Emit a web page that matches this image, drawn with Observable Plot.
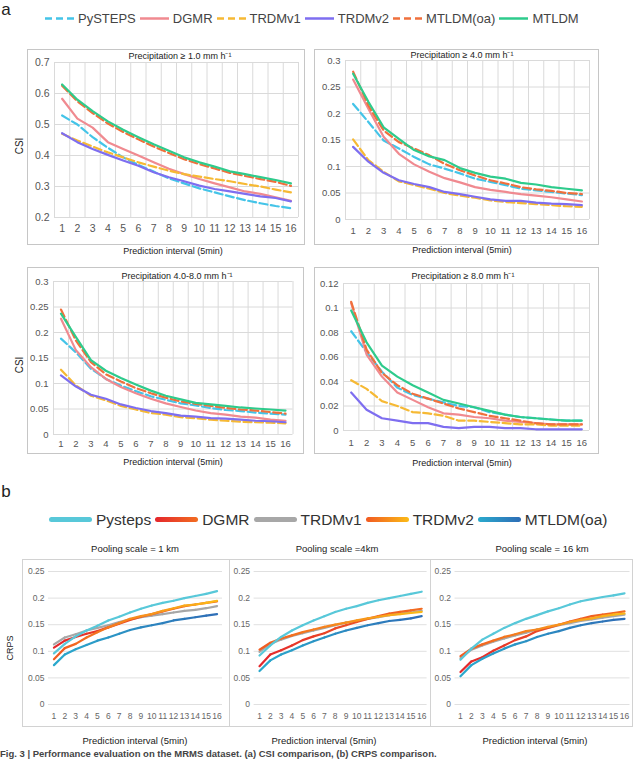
<!DOCTYPE html>
<html><head><meta charset="utf-8">
<script src="https://cdn.jsdelivr.net/npm/d3@7"></script>
<script src="https://cdn.jsdelivr.net/npm/@observablehq/plot@0.6"></script>
<style>
body{margin:0;background:#fff;}
#root{position:relative;width:640px;height:760px;overflow:hidden;background:#fff;font-family:"Liberation Sans",Arial,Helvetica,sans-serif;color:#222;}
.c{position:absolute;transform:translate(-50%,-50%);white-space:nowrap;line-height:1.15;}
.box{position:absolute;border:1px solid #c9c9c9;box-sizing:border-box;}
.leg{position:absolute;display:flex;align-items:center;transform:translateY(-50%);white-space:nowrap;line-height:1.15;}
.plot{position:absolute;}
</style></head><body><div id="root"></div>
<script>
// ---------- data ----------
const intervals = [1,2,3,4,5,6,7,8,9,10,11,12,13,14,15,16];

const csiModels = ["PySTEPS","DGMR","TRDMv1","TRDMv2","MTLDM(oa)","MTLDM"];
const csiColors = ["#44c4e8","#f08a90","#f6b934","#7e6ef0","#f0703c","#2ecb8c"];
const csiDashed = [true,false,true,false,true,false];

// Precipitation >= 1.0 mm/h
const ge1_pysteps = [0.529,0.500,0.459,0.425,0.394,0.370,0.348,0.326,0.310,0.294,0.281,0.268,0.256,0.246,0.237,0.230];
const ge1_dgmr    = [0.583,0.519,0.490,0.443,0.421,0.400,0.378,0.357,0.340,0.324,0.310,0.297,0.284,0.276,0.265,0.254];
const ge1_trdmv1  = [0.470,0.448,0.429,0.410,0.394,0.378,0.364,0.351,0.340,0.332,0.324,0.317,0.308,0.300,0.290,0.281];
const ge1_trdmv2  = [0.472,0.443,0.421,0.402,0.384,0.367,0.346,0.330,0.317,0.303,0.292,0.284,0.276,0.268,0.263,0.252];
const ge1_mtldmoa = [0.625,0.575,0.537,0.503,0.476,0.452,0.429,0.408,0.388,0.372,0.358,0.344,0.334,0.324,0.315,0.302];
const ge1_mtldm   = [0.629,0.580,0.543,0.510,0.483,0.459,0.436,0.415,0.394,0.378,0.364,0.349,0.340,0.330,0.321,0.310];

// Precipitation >= 4.0 mm/h
const ge4_pysteps = [0.218,0.184,0.149,0.134,0.118,0.104,0.096,0.087,0.077,0.071,0.065,0.058,0.055,0.052,0.049,0.046];
const ge4_dgmr    = [0.264,0.209,0.156,0.124,0.104,0.090,0.078,0.070,0.061,0.056,0.052,0.048,0.045,0.042,0.038,0.034];
const ge4_trdmv1  = [0.151,0.112,0.090,0.072,0.065,0.058,0.050,0.045,0.041,0.036,0.033,0.031,0.029,0.027,0.025,0.024];
const ge4_trdmv2  = [0.137,0.109,0.088,0.074,0.067,0.061,0.052,0.048,0.043,0.038,0.035,0.035,0.032,0.030,0.029,0.027];
const ge4_mtldmoa = [0.279,0.215,0.168,0.146,0.134,0.121,0.105,0.093,0.083,0.074,0.068,0.061,0.057,0.054,0.050,0.048];
const ge4_mtldm   = [0.275,0.222,0.174,0.152,0.131,0.119,0.112,0.097,0.088,0.081,0.077,0.069,0.066,0.061,0.058,0.055];

// Precipitation 4.0-8.0 mm/h
const r48_pysteps = [0.188,0.161,0.129,0.109,0.096,0.085,0.075,0.068,0.061,0.057,0.052,0.048,0.046,0.043,0.041,0.039];
const r48_dgmr    = [0.227,0.165,0.132,0.109,0.093,0.081,0.070,0.061,0.054,0.047,0.042,0.039,0.035,0.033,0.029,0.027];
const r48_trdmv1  = [0.127,0.096,0.076,0.067,0.056,0.049,0.042,0.039,0.034,0.032,0.029,0.027,0.025,0.024,0.023,0.022];
const r48_trdmv2  = [0.116,0.094,0.078,0.070,0.059,0.052,0.046,0.042,0.037,0.035,0.032,0.031,0.029,0.027,0.026,0.024];
const r48_mtldmoa = [0.245,0.184,0.142,0.118,0.104,0.091,0.081,0.072,0.065,0.060,0.056,0.052,0.049,0.047,0.044,0.041];
const r48_mtldm   = [0.237,0.191,0.146,0.125,0.111,0.098,0.086,0.076,0.069,0.062,0.059,0.056,0.053,0.051,0.049,0.047];

// Precipitation >= 8.0 mm/h
const ge8_pysteps = [0.081,0.064,0.048,0.035,0.029,0.026,0.023,0.020,0.019,0.015,0.013,0.011,0.010,0.009,0.008,0.008];
const ge8_dgmr    = [0.104,0.062,0.044,0.031,0.025,0.019,0.014,0.013,0.011,0.010,0.008,0.007,0.006,0.005,0.005,0.005];
const ge8_trdmv1  = [0.041,0.034,0.024,0.020,0.015,0.014,0.012,0.008,0.008,0.007,0.006,0.005,0.005,0.004,0.004,0.004];
const ge8_trdmv2  = [0.031,0.017,0.010,0.008,0.006,0.006,0.003,0.002,0.003,0.003,0.002,0.002,0.001,0.001,0.001,0.001];
const ge8_mtldmoa = [0.105,0.066,0.047,0.037,0.030,0.026,0.022,0.018,0.015,0.012,0.010,0.008,0.006,0.005,0.005,0.005];
const ge8_mtldm   = [0.098,0.072,0.053,0.044,0.037,0.031,0.025,0.022,0.019,0.016,0.013,0.011,0.010,0.009,0.008,0.008];

const csiTitles = ["Precipitation ≥ 1.0 mm h⁻¹","Precipitation ≥ 4.0 mm h⁻¹","Precipitation 4.0-8.0 mm h⁻¹","Precipitation ≥ 8.0 mm h⁻¹"];
const ticks_ge1 = [0.2,0.3,0.4,0.5,0.6,0.7];
const ticks_ge4 = [0,0.05,0.1,0.15,0.2,0.25,0.3];
const ticks_r48 = [0,0.05,0.1,0.15,0.2,0.25,0.3];
const ticks_ge8 = [0,0.02,0.04,0.06,0.08,0.1,0.12];

// CRPS
const crpsModels = ["Pysteps","DGMR","TRDMv1","TRDMv2","MTLDM(oa)"];
const crpsColorStart = ["#58c8d9","#e4262c","#a7a7a7","#f15a22","#2aaacd"];
const crpsColorEnd   = ["#58c8d9","#f26d21","#a7a7a7","#fbbb17","#2e6db6"];
const crpsTitles = ["Pooling scale = 1 km","Pooling scale =4km","Pooling scale = 16 km"];
const crpsTicks = [0,0.05,0.1,0.15,0.2,0.25];

const p1_pysteps = [0.096,0.114,0.128,0.139,0.148,0.158,0.165,0.173,0.180,0.186,0.191,0.195,0.200,0.204,0.208,0.213];
const p1_dgmr    = [0.107,0.120,0.127,0.133,0.138,0.145,0.152,0.159,0.165,0.170,0.175,0.180,0.185,0.188,0.191,0.194];
const p1_trdmv1  = [0.113,0.126,0.132,0.139,0.144,0.149,0.155,0.160,0.164,0.167,0.170,0.173,0.176,0.178,0.181,0.185];
const p1_trdmv2  = [0.085,0.106,0.114,0.126,0.136,0.145,0.153,0.161,0.166,0.170,0.176,0.181,0.186,0.188,0.191,0.195];
const p1_mtldmoa = [0.074,0.094,0.104,0.112,0.120,0.126,0.133,0.140,0.145,0.149,0.153,0.158,0.161,0.164,0.167,0.170];

const p4_pysteps = [0.092,0.111,0.127,0.139,0.149,0.158,0.166,0.174,0.180,0.185,0.191,0.196,0.200,0.204,0.208,0.212];
const p4_dgmr    = [0.072,0.094,0.102,0.111,0.121,0.128,0.134,0.143,0.149,0.155,0.161,0.166,0.171,0.174,0.177,0.180];
const p4_trdmv1  = [0.099,0.114,0.122,0.129,0.134,0.139,0.144,0.149,0.154,0.157,0.161,0.164,0.168,0.171,0.173,0.176];
const p4_trdmv2  = [0.103,0.116,0.124,0.130,0.136,0.141,0.146,0.150,0.154,0.158,0.162,0.165,0.168,0.170,0.172,0.174];
const p4_mtldmoa = [0.063,0.083,0.094,0.102,0.111,0.119,0.126,0.133,0.139,0.144,0.149,0.153,0.157,0.159,0.162,0.166];

const p16_pysteps = [0.084,0.105,0.122,0.133,0.144,0.153,0.161,0.168,0.175,0.181,0.188,0.194,0.198,0.202,0.205,0.209];
const p16_dgmr    = [0.061,0.081,0.089,0.101,0.111,0.121,0.128,0.138,0.144,0.150,0.156,0.161,0.166,0.169,0.172,0.175];
const p16_trdmv1  = [0.087,0.103,0.111,0.118,0.124,0.130,0.135,0.141,0.144,0.149,0.153,0.157,0.160,0.163,0.166,0.169];
const p16_trdmv2  = [0.091,0.105,0.113,0.120,0.127,0.132,0.138,0.141,0.146,0.150,0.155,0.159,0.162,0.166,0.169,0.171];
const p16_mtldmoa = [0.053,0.074,0.086,0.096,0.105,0.113,0.119,0.127,0.133,0.138,0.144,0.149,0.153,0.156,0.159,0.161];

// ---------- layout ----------
const root = document.getElementById("root");
const FONT = '"Liberation Sans", Arial, Helvetica, sans-serif';
const fmt = d => String(+d.toFixed(3));
const xGrid = [0.5].concat(intervals.map(d => d + 0.5));

function text(t, x, y, size, opts = {}) {
  const el = document.createElement("div");
  el.className = "c";
  el.textContent = t;
  el.style.left = x + "px"; el.style.top = y + "px";
  el.style.fontSize = size + "px";
  el.style.color = opts.color || "#222";
  if (opts.weight) el.style.fontWeight = opts.weight;
  if (opts.rotate) el.style.transform = "translate(-50%,-50%) rotate(-90deg)";
  root.appendChild(el);
  return el;
}
function box(l, t, r, b, color) {
  const el = document.createElement("div");
  el.className = "box";
  el.style.left = l + "px"; el.style.top = t + "px";
  el.style.width = (r - l) + "px"; el.style.height = (b - t) + "px";
  if (color) el.style.borderColor = color;
  root.appendChild(el);
}
function place(svg, l, t) {
  svg.classList.add("plot");
  svg.style.left = l + "px"; svg.style.top = t + "px";
  root.appendChild(svg);
}

// ---------- panel a ----------
text("a", 6, 10, 17, {color: "#222"});
{
  const leg = document.createElement("div");
  leg.className = "leg";
  leg.style.left = "45px"; leg.style.top = "19px";
  leg.style.fontSize = "13px"; leg.style.color = "#444";
  leg.innerHTML = csiModels.map((m, i) =>
    `<svg width="29" height="6" style="margin-right:4px"><line x1="0" y1="3" x2="29" y2="3" stroke="${csiColors[i]}" stroke-width="2.6" ${csiDashed[i] ? 'stroke-dasharray="7,4"' : ""}/></svg><span style="margin-right:4px">${m}</span>`
  ).join("");
  root.appendChild(leg);
}

const csiPanels = [
  {series:[ge1_pysteps,ge1_dgmr,ge1_trdmv1,ge1_trdmv2,ge1_mtldmoa,ge1_mtldm], ticks:ticks_ge1,
   box:[27,49,305,245], grid:[54,298,62,217], xPad:7, font:10.5, title:[180,55.5], xl:[173,251], csi:[20,146]},
  {series:[ge4_pysteps,ge4_dgmr,ge4_trdmv1,ge4_trdmv2,ge4_mtldmoa,ge4_mtldm], ticks:ticks_ge4,
   box:[314,49,599,245], grid:[345,589,60,219], xPad:8, font:9.5, title:[462,55], xl:[462,250]},
  {series:[r48_pysteps,r48_dgmr,r48_trdmv1,r48_trdmv2,r48_mtldmoa,r48_mtldm], ticks:ticks_r48,
   box:[27,267,304,454], grid:[53,292.5,281,434], xPad:5.5, font:9.5, title:[177,276], xl:[173,462], csi:[20,365]},
  {series:[ge8_pysteps,ge8_dgmr,ge8_trdmv1,ge8_trdmv2,ge8_mtldmoa,ge8_mtldm], ticks:ticks_ge8,
   box:[314,267,599,454], grid:[343,589,283,430], xPad:8.5, font:9.5, title:[463,276], xl:[462,463]}
];

csiPanels.forEach((p, k) => {
  const [L, T, R, B] = p.box;
  const [gx0, gx1, gy0, gy1] = p.grid;
  const ticks = p.ticks;
  const svg = Plot.plot({
    width: R - L, height: B - T,
    marginLeft: gx0 - L, marginRight: R - gx1, marginTop: gy0 - T, marginBottom: B - gy1,
    x: {type: "linear", domain: [0.5, 16.5], axis: null},
    y: {type: "linear", domain: [ticks[0], ticks[ticks.length - 1]], axis: null},
    style: {fontFamily: FONT, fontSize: p.font + "px", color: "#555", background: "transparent", overflow: "visible"},
    marks: [
      Plot.ruleX(xGrid, {stroke: "#dadada", strokeWidth: 1}),
      Plot.ruleY(ticks, {stroke: "#dadada", strokeWidth: 1}),
      Plot.axisX(intervals, {tickSize: 0, tickPadding: p.xPad, label: null, fontSize: p.font, tickFormat: d => d}),
      Plot.axisY(ticks, {tickSize: 0, tickPadding: 5, label: null, fontSize: p.font, tickFormat: fmt}),
      ...p.series.map((vals, i) => Plot.line(
        intervals.map((x, j) => ({x, y: vals[j]})),
        {x: "x", y: "y", stroke: csiColors[i], strokeWidth: 2.2,
         strokeDasharray: csiDashed[i] ? "8,3.5" : null, strokeLinejoin: "round"}))
    ]
  });
  place(svg, L, T);
  box(L, T, R, B, "#c6c6c6");
  text(csiTitles[k], p.title[0], p.title[1], 9, {color: "#222"});
  text("Prediction interval (5min)", p.xl[0], p.xl[1], 9, {color: "#222"});
  if (p.csi) text("CSI", p.csi[0], p.csi[1], 10, {color: "#222", rotate: true});
});

// ---------- panel b ----------
text("b", 6, 492, 17, {color: "#222"});
{
  const leg = document.createElement("div");
  leg.className = "leg";
  leg.style.left = "49px"; leg.style.top = "520px";
  leg.style.fontSize = "15.5px"; leg.style.color = "#333";
  leg.innerHTML = crpsModels.map((m, i) =>
    `<div style="width:43px;height:5px;border-radius:3px;margin-right:4px;background:linear-gradient(to right, ${crpsColorStart[i]}, ${crpsColorEnd[i]})"></div><span style="margin-right:4px">${m}</span>`
  ).join("");
  root.appendChild(leg);
}

const crpsPanels = [
  {series:[p1_pysteps,p1_dgmr,p1_trdmv1,p1_trdmv2,p1_mtldmoa], box:[22,559,229,727], grid:[48,222,571,704], title:[135,549], xl:[135,741]},
  {series:[p4_pysteps,p4_dgmr,p4_trdmv1,p4_trdmv2,p4_mtldmoa], box:[229,559,431,727], grid:[253.6,426.6,571,704], title:[337,549], xl:[324,741]},
  {series:[p16_pysteps,p16_dgmr,p16_trdmv1,p16_trdmv2,p16_mtldmoa], box:[431,559,633,727], grid:[454.5,629.5,571,704], title:[542,549], xl:[535,741]}
];
const drawOrder = [2, 1, 3, 4, 0];

crpsPanels.forEach((p, k) => {
  const [L, T, R, B] = p.box;
  const [gx0, gx1, gy0, gy1] = p.grid;
  const segs = [];
  drawOrder.forEach(i => {
    const vals = p.series[i];
    const interp = d3.interpolateRgb(crpsColorStart[i], crpsColorEnd[i]);
    for (let j = 0; j < intervals.length - 1; j++) {
      segs.push({x1: intervals[j], y1: vals[j], x2: intervals[j + 1], y2: vals[j + 1],
                 c: d3.color(interp((j + 0.5) / (intervals.length - 1))).formatHex()});
    }
  });
  const svg = Plot.plot({
    width: R - L, height: B - T,
    marginLeft: gx0 - L, marginRight: R - gx1, marginTop: gy0 - T, marginBottom: B - gy1,
    x: {type: "linear", domain: [0.5, 16.5], axis: null},
    y: {type: "linear", domain: [0, 0.25], axis: null},
    color: {type: "identity"},
    style: {fontFamily: FONT, fontSize: "8.5px", color: "#666", background: "transparent", overflow: "visible"},
    marks: [
      Plot.ruleY(crpsTicks, {stroke: "#e0e0e0", strokeWidth: 1}),
      Plot.axisX(intervals, {tickSize: 0, tickPadding: 8, label: null, fontSize: 8.5, tickFormat: d => d}),
      Plot.axisY(crpsTicks, {tickSize: 0, tickPadding: 4, label: null, fontSize: 8.5, tickFormat: fmt}),
      Plot.link(segs, {x1: "x1", y1: "y1", x2: "x2", y2: "y2", stroke: "c", strokeWidth: 2.2, strokeLinecap: "round"})
    ]
  });
  place(svg, L, T);
  text(crpsTitles[k], p.title[0], p.title[1], 9.5, {color: "#222"});
  text("Prediction interval (5min)", p.xl[0], p.xl[1], 9.5, {color: "#222"});
});
box(22, 559, 633, 727, "#d2d2d2");
box(229, 559, 431, 727, "#d2d2d2");
text("CRPS", 10, 648, 9, {color: "#222", rotate: true});

// caption
{
  const el = document.createElement("div");
  el.style.position = "absolute"; el.style.left = "0px"; el.style.top = "749px";
  el.style.fontSize = "9.5px"; el.style.fontWeight = "bold"; el.style.color = "#444";
  el.style.whiteSpace = "nowrap"; el.style.lineHeight = "1.1";
  el.textContent = "Fig. 3 | Performance evaluation on the MRMS dataset. (a) CSI comparison, (b) CRPS comparison.";
  root.appendChild(el);
}
</script>
</body></html>
